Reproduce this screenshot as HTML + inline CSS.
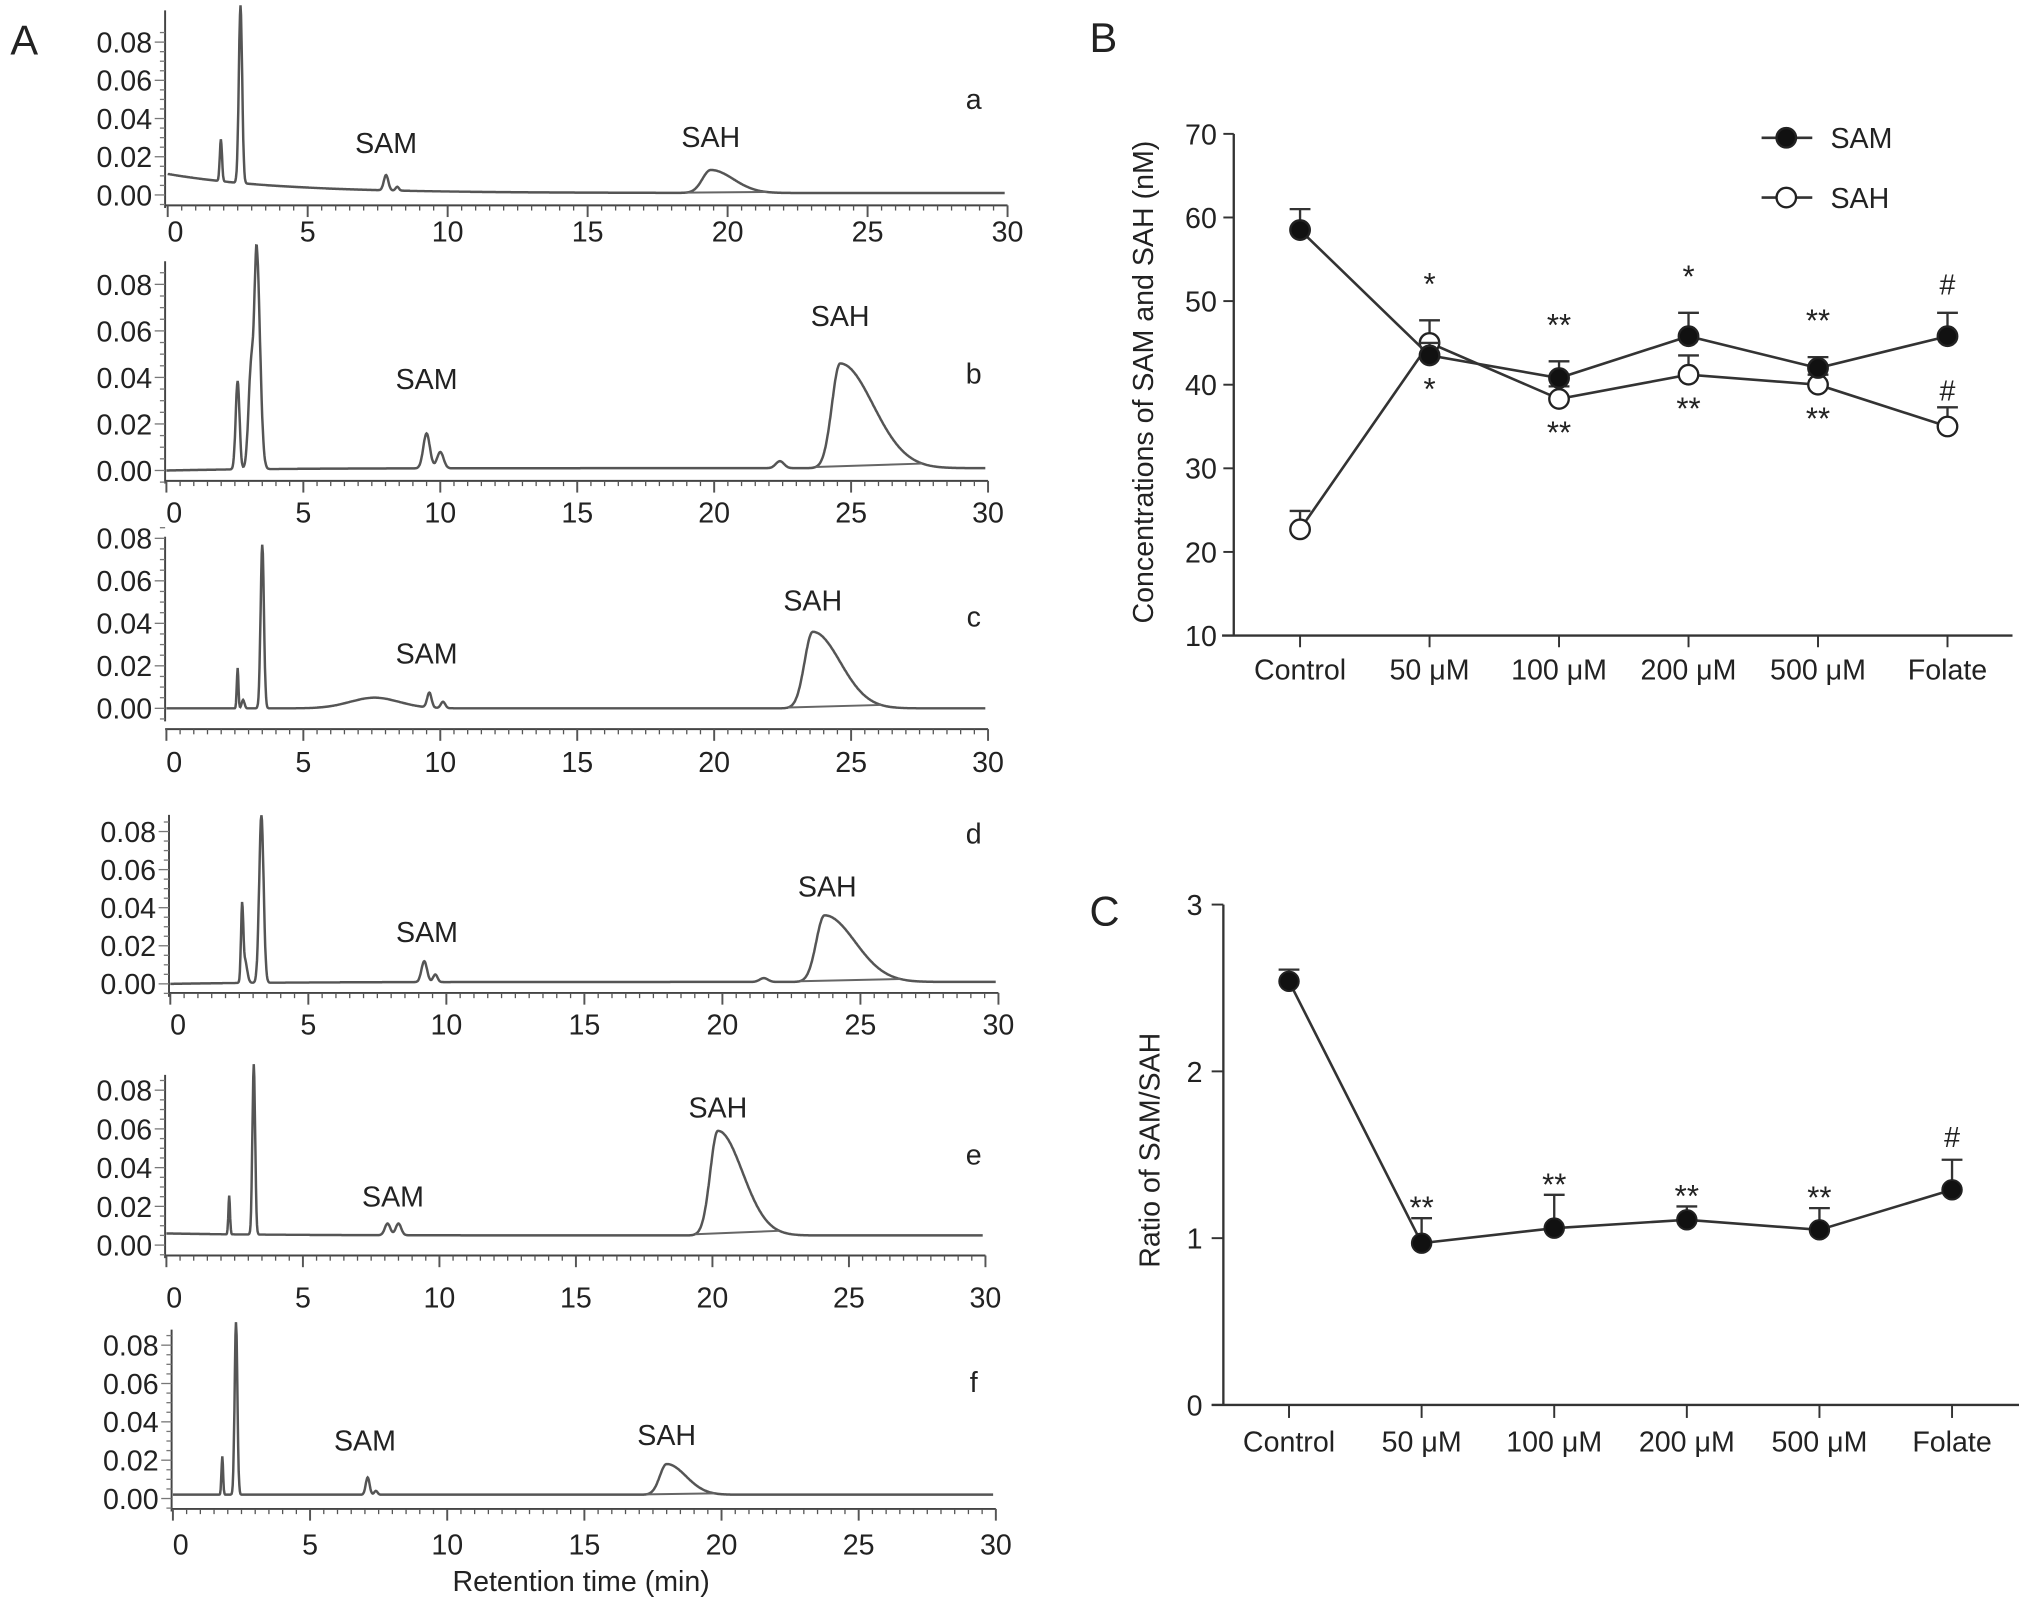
<!DOCTYPE html>
<html><head><meta charset="utf-8"><style>
html,body{margin:0;padding:0;background:#fff}
svg{display:block}
text{font-family:"Liberation Sans",Arial,sans-serif;fill:#222}
</style></head><body>
<svg id="fig" xmlns="http://www.w3.org/2000/svg" width="2032" height="1609" viewBox="0 0 1563 1238" preserveAspectRatio="none">
<rect width="1563" height="1238" fill="#fff"/>
<text x="8" y="42" font-size="32">A</text>
<text x="838" y="40" font-size="32">B</text>
<text x="838" y="712" font-size="32">C</text>
<text x="447" y="1224" font-size="22" text-anchor="middle">Retention time (min)</text>
<g id="chroms"></g>
<g id="panelB"></g>
<g id="panelC"></g>
</svg>
<script>
// ---------- Panel A data (chromatogram peaks: [time, height, leftSigma, rightSigma]) ----------
const panelIds = ['a','b','c','d','e','f'];
const baseStart = [0.011,0.000,0.000,0.000,0.006,0.002];
const baseEnd = [0.001,0.001,0.000,0.001,0.005,0.002];
const peaksA = [[1.9,0.022,0.04,0.04],[2.6,0.093,0.06,0.06],[7.8,0.008,0.08,0.08],[8.2,0.002,0.06,0.06],[19.4,0.012,0.3,0.8]];
const peaksB = [[2.6,0.038,0.07,0.07],[3.1,0.045,0.1,0.1],[3.3,0.09,0.08,0.12],[9.5,0.015,0.12,0.12],[10.0,0.007,0.12,0.12],[22.4,0.003,0.15,0.15],[24.6,0.045,0.3,1.2]];
const peaksC = [[2.6,0.019,0.03,0.03],[2.8,0.004,0.05,0.05],[3.5,0.077,0.06,0.06],[7.6,0.005,0.9,0.9],[9.6,0.007,0.08,0.08],[10.1,0.003,0.08,0.08],[23.6,0.036,0.3,1.0]];
const peaksD = [[2.6,0.037,0.04,0.04],[2.7,0.012,0.08,0.08],[3.3,0.088,0.08,0.08],[9.2,0.011,0.1,0.1],[9.6,0.004,0.08,0.08],[21.5,0.002,0.15,0.15],[23.7,0.035,0.3,1.1]];
const peaksE = [[2.3,0.02,0.03,0.03],[3.2,0.088,0.05,0.05],[8.1,0.006,0.1,0.1],[8.5,0.006,0.1,0.1],[20.2,0.054,0.28,0.9]];
const peaksF = [[1.8,0.02,0.03,0.03],[2.3,0.09,0.05,0.05],[7.1,0.009,0.07,0.07],[7.4,0.002,0.06,0.06],[18.0,0.016,0.25,0.7]];
const samLabelT = [7.8,9.5,9.5,9.3,8.3,7.0];
const sahLabelT = [19.4,24.6,23.6,23.8,20.2,18.0];
const samLabelV = [0.022,0.035,0.021,0.022,0.020,0.025];
const sahLabelV = [0.025,0.062,0.046,0.046,0.066,0.028];
const yTicks = [0,0.02,0.04,0.06,0.08];
const xTicks = [0,5,10,15,20,25,30];
const geo = [
 {ax:127,x0:129,x30:775,y0:150,step:29.4,xa:158,ly:186,top:8,lx:749,lyl:84},
 {ax:127,x0:128,x30:760,y0:362,step:35.8,xa:370,ly:402,top:201,lx:749,lyl:295},
 {ax:127,x0:128,x30:760,y0:545,step:32.7,xa:561,ly:594,top:413,lx:749,lyl:482},
 {ax:130,x0:131,x30:768,y0:757,step:29.3,xa:764,ly:796,top:627,lx:749,lyl:649},
 {ax:127,x0:128,x30:758,y0:958,step:29.8,xa:966,ly:1006,top:827,lx:749,lyl:896},
 {ax:132,x0:133,x30:766,y0:1153,step:29.5,xa:1161,ly:1196,top:1023,lx:749,lyl:1071}
];
const allPeaks=[peaksA,peaksB,peaksC,peaksD,peaksE,peaksF];
const NS='http://www.w3.org/2000/svg';
function mk(tag,attrs,parent){const e=document.createElementNS(NS,tag);for(const k in attrs)e.setAttribute(k,attrs[k]);parent.appendChild(e);return e;}
const chroms=document.getElementById('chroms');
panelIds.forEach((id,i)=>{
  const g=geo[i], peaks=allPeaks[i];
  const sx=t=>g.x0+(g.x30-g.x0)*t/30;
  const sy=v=>g.y0-v/0.02*g.step;
  const grp=mk('g',{},chroms);
  
  
  const ya=mk('line',{x1:g.ax,y1:g.top,x2:g.ax,y2:g.y0+10,stroke:'#444','stroke-width':1.5},grp);
  
  
  const xa=mk('line',{x1:g.ax,y1:g.xa,x2:g.x30,y2:g.xa,stroke:'#444','stroke-width':1.5},grp);
  
  
  for(let t=0;t<=30;t+=0.5){const maj=(t%5===0);mk('line',{x1:sx(t),y1:g.xa,x2:sx(t),y2:g.xa+(maj?9:4),stroke:'#555','stroke-width':maj?1.5:1},grp);}
  for(let v=-0.005;v<=0.085;v+=0.005){const maj=Math.abs(v/0.02-Math.round(v/0.02))<0.01;mk('line',{x1:g.ax-(maj?8:4),y1:sy(v),x2:g.ax,y2:sy(v),stroke:'#777','stroke-width':1},grp);}
  yTicks.forEach(v=>{const tx=mk('text',{x:g.ax-10,y:sy(v)+8,'font-size':22,'text-anchor':'end'},grp);tx.textContent=v.toFixed(2);
    
    });
  xTicks.forEach(t=>{const tx=mk('text',{x:sx(t)+(t===0?6:0),y:g.ly,'font-size':22,'text-anchor':'middle'},grp);tx.textContent=t;
    
    });
  const val=t=>{let v=baseStart[i]+(baseEnd[i]-baseStart[i])*(1-Math.exp(-t/4))/(1-Math.exp(-30/4));
    peaks.forEach(p=>{const s=t<p[0]?p[2]:p[3];v+=p[1]*Math.exp(-((t-p[0])**2)/(2*s*s));});return v;};
  let d='';for(let t=0;t<=29.9;t+=0.02){d+=(d?'L':'M')+sx(t).toFixed(1)+','+sy(val(t)).toFixed(1);}
  const tr=mk('path',{d:d,fill:'none',stroke:'#555','stroke-width':1.9},grp);
  
  
  const sp=peaks[peaks.length-1];
  const tA=sp[0]-3*sp[2], tB=sp[0]+2.5*sp[3];
  const bl=mk('line',{x1:sx(tA),y1:sy(val(tA)),x2:sx(tB),y2:sy(val(tB)),stroke:'#666','stroke-width':1.5},grp);
  
  
  const l1=mk('text',{x:sx(samLabelT[i]),y:sy(samLabelV[i]),'font-size':22,'text-anchor':'middle'},grp);l1.textContent='SAM';
  
  
  const l2=mk('text',{x:sx(sahLabelT[i]),y:sy(sahLabelV[i]),'font-size':22,'text-anchor':'middle'},grp);l2.textContent='SAH';
  
  
  const lt=mk('text',{x:g.lx,y:g.lyl,'font-size':22,'text-anchor':'middle'},grp);lt.textContent=id;
  
  
});
</script>
<script>
// ---------- Panel B data ----------
const groups = ['Control','50 μM','100 μM','200 μM','500 μM','Folate'];
const samVals = [58.5,43.5,40.8,45.8,42.0,45.8];
const samErr = [2.5,1.5,2.0,2.8,1.3,2.8];
const sahVals = [22.7,45.0,38.3,41.2,40.0,35.0];
const sahErr = [2.2,2.7,1.5,2.3,1.2,2.3];
const samMarks = ['','*','**','*','**','#'];
const sahMarks = ['','*','**','**','**','#'];
const bTicks = [10,20,30,40,50,60,70];
(function(){
  const NS='http://www.w3.org/2000/svg';
  const P=document.getElementById('panelB');
  function mk(tag,a){const e=document.createElementNS(NS,tag);for(const k in a)e.setAttribute(k,a[k]);P.appendChild(e);return e;}
  const x=i=>1000+i*99.6, y=v=>489-(v-10)*(489-103)/60;
  let e=mk('line',{x1:949,y1:y(70),x2:949,y2:489,stroke:'#333','stroke-width':1.8});
  
  
  e=mk('line',{x1:940,y1:489,x2:1548,y2:489,stroke:'#333','stroke-width':1.8});
  
  
  bTicks.forEach(v=>{mk('line',{x1:941,y1:y(v),x2:949,y2:y(v),stroke:'#333','stroke-width':1.5});
    const t=mk('text',{x:936,y:y(v)+8,'font-size':22,'text-anchor':'end'});t.textContent=v;
    
    });
  groups.forEach((g,i)=>{mk('line',{x1:x(i),y1:489,x2:x(i),y2:498,stroke:'#333','stroke-width':1.5});
    const t=mk('text',{x:x(i),y:523,'font-size':22,'text-anchor':'middle'});t.textContent=g;
    
    });
  const yt=mk('text',{x:0,y:0,'font-size':22,'text-anchor':'middle',transform:'translate(887,294) rotate(-90)'});yt.textContent='Concentrations of SAM and SAH (nM)';
  
  
  function series(vals,errs,filled,name){
    let d='';vals.forEach((v,i)=>{d+=(i?'L':'M')+x(i)+','+y(v);});
    const p=mk('path',{d:d,fill:'none',stroke:'#333','stroke-width':2});
    
    
    vals.forEach((v,i)=>{
      mk('line',{x1:x(i),y1:y(v),x2:x(i),y2:y(v+errs[i]),stroke:'#333','stroke-width':1.8});
      mk('line',{x1:x(i)-8,y1:y(v+errs[i]),x2:x(i)+8,y2:y(v+errs[i]),stroke:'#333','stroke-width':1.8});
      const c=mk('circle',{cx:x(i),cy:y(v),r:7.5,fill:filled?'#111':'#fff',stroke:'#222','stroke-width':1.8});
      
      
    });
  }
  series(sahVals,sahErr,false,'sah');
  series(samVals,samErr,true,'sam');
  groups.forEach((g,i)=>{
    if(samMarks[i]){const top=Math.max(samVals[i]+samErr[i],sahVals[i]+sahErr[i]);
      const t=mk('text',{x:x(i),y:y(top)-(samMarks[i]==='#'?14:20),'font-size':samMarks[i]==='#'?22:24,'text-anchor':'middle'});t.textContent=samMarks[i];
      
      }
    if(sahMarks[i]){const low=Math.min(samVals[i],sahVals[i]);
      const t=mk('text',{x:x(i),y:y(low)+(sahMarks[i]==='#'?-20:34),'font-size':sahMarks[i]==='#'?22:24,'text-anchor':'middle'});t.textContent=sahMarks[i];
      
      }
  });
  [['SAM',106,true],['SAH',152,false]].forEach(L=>{
    mk('line',{x1:1355,y1:L[1],x2:1394,y2:L[1],stroke:'#333','stroke-width':2});
    mk('circle',{cx:1374,cy:L[1],r:7.5,fill:L[2]?'#111':'#fff',stroke:'#222','stroke-width':1.8});
    const t=mk('text',{x:1408,y:L[1]+8,'font-size':22});t.textContent=L[0];
    
    
  });
})();
</script>
<script>
// ---------- Panel C data ----------
const ratioGroups = ['Control','50 μM','100 μM','200 μM','500 μM','Folate'];
const ratioVals = [2.54,0.97,1.06,1.11,1.05,1.29];
const ratioErr = [0.07,0.15,0.20,0.08,0.13,0.18];
const ratioMarks = ['','**','**','**','**','#'];
const cTicks = [0,1,2,3];
(function(){
  const NS='http://www.w3.org/2000/svg';
  const P=document.getElementById('panelC');
  function mk(tag,a){const e=document.createElementNS(NS,tag);for(const k in a)e.setAttribute(k,a[k]);P.appendChild(e);return e;}
  const x=i=>991.5+i*102, y=v=>1081-v*(1081-696)/3;
  let e=mk('line',{x1:941,y1:y(3),x2:941,y2:1081,stroke:'#333','stroke-width':1.8});
  
  
  e=mk('line',{x1:932,y1:1081,x2:1553,y2:1081,stroke:'#333','stroke-width':1.8});
  
  
  cTicks.forEach(v=>{mk('line',{x1:932,y1:y(v),x2:941,y2:y(v),stroke:'#333','stroke-width':1.5});
    const t=mk('text',{x:925,y:y(v)+8,'font-size':22,'text-anchor':'end'});t.textContent=v;
    
    });
  ratioGroups.forEach((g,i)=>{mk('line',{x1:x(i),y1:1081,x2:x(i),y2:1091,stroke:'#333','stroke-width':1.5});
    const t=mk('text',{x:x(i),y:1117,'font-size':22,'text-anchor':'middle'});t.textContent=g;
    
    });
  const yt=mk('text',{x:0,y:0,'font-size':22,'text-anchor':'middle',transform:'translate(892,885) rotate(-90)'});yt.textContent='Ratio of SAM/SAH';
  
  
  let d='';ratioVals.forEach((v,i)=>{d+=(i?'L':'M')+x(i)+','+y(v);});
  const p=mk('path',{d:d,fill:'none',stroke:'#333','stroke-width':2});
  
  
  ratioVals.forEach((v,i)=>{
    mk('line',{x1:x(i),y1:y(v),x2:x(i),y2:y(v+ratioErr[i]),stroke:'#333','stroke-width':1.8});
    mk('line',{x1:x(i)-8,y1:y(v+ratioErr[i]),x2:x(i)+8,y2:y(v+ratioErr[i]),stroke:'#333','stroke-width':1.8});
    const c=mk('circle',{cx:x(i),cy:y(v),r:7.5,fill:'#111',stroke:'#222','stroke-width':1.5});
    
    
    if(ratioMarks[i]){const t=mk('text',{x:x(i),y:y(v+ratioErr[i])+(ratioMarks[i]==='#'?-10:0),'font-size':ratioMarks[i]==='#'?22:24,'text-anchor':'middle'});t.textContent=ratioMarks[i];
      
      }
  });
})();
</script>
</body></html>
